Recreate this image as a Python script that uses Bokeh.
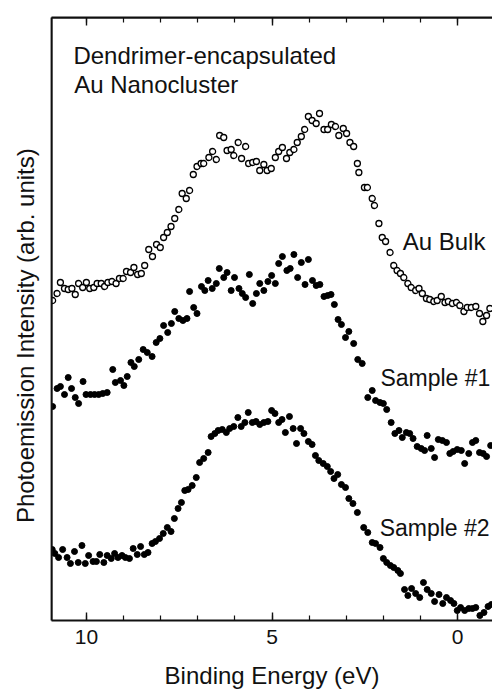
from bokeh.plotting import figure
from bokeh.models import Range1d, LinearAxis, SingleIntervalTicker, FixedTicker, Label, Span
from bokeh.embed import file_html
from bokeh.resources import INLINE

# Binding energy (eV) and photoemission intensity (arb. units)
au_e = [10.91, 10.79, 10.70, 10.59, 10.49, 10.39, 10.30, 10.21, 10.10, 10.00,
        9.91, 9.80, 9.71, 9.60, 9.51, 9.42, 9.31, 9.20, 9.11, 9.01,
        8.92, 8.81, 8.72, 8.62, 8.52, 8.43, 8.32, 8.22, 8.11, 8.01,
        7.92, 7.82, 7.72, 7.62, 7.51, 7.42, 7.31, 7.22, 7.12, 7.02,
        6.91, 6.84, 6.70, 6.60, 6.50, 6.41, 6.30, 6.21, 6.10, 6.03,
        5.91, 5.82, 5.71, 5.63, 5.52, 5.42, 5.33, 5.22, 5.13, 5.02,
        4.91, 4.82, 4.72, 4.61, 4.52, 4.41, 4.32, 4.21, 4.12, 4.02,
        3.92, 3.81, 3.72, 3.60, 3.50, 3.40, 3.29, 3.20, 3.08, 2.99,
        2.90, 2.80, 2.70, 2.66, 2.51, 2.43, 2.30, 2.24, 2.12, 2.03,
        1.94, 1.82, 1.72, 1.63, 1.54, 1.45, 1.34, 1.25, 1.13, 1.04,
        0.95, 0.84, 0.75, 0.64, 0.55, 0.44, 0.34, 0.25, 0.14, 0.03,
        -0.06, -0.17, -0.26, -0.37, -0.49, -0.59, -0.68, -0.78, -0.87]
au_i = [320, 327, 338, 332, 331, 332, 326, 337, 333, 338,
        332, 333, 337, 337, 334, 338, 339, 337, 342, 342,
        349, 348, 353, 346, 347, 355, 371, 364, 376, 373,
        383, 388, 394, 402, 411, 427, 422, 430, 446, 454,
        457, 457, 463, 469, 461, 485, 483, 470, 471, 465,
        478, 462, 474, 457, 458, 459, 450, 456, 450, 452,
        463, 469, 473, 462, 468, 471, 478, 484, 491, 504,
        500, 497, 507, 491, 491, 496, 494, 485, 492, 487,
        478, 474, 457, 448, 433, 433, 422, 415, 397, 383,
        379, 368, 355, 350, 347, 343, 337, 333, 330, 332,
        327, 322, 321, 319, 320, 324, 318, 319, 317, 318,
        315, 309, 313, 313, 314, 307, 299, 305, 312]

s1_e = [10.91, 10.79, 10.70, 10.59, 10.49, 10.40, 10.30, 10.21, 10.09, 10.01,
        9.89, 9.78, 9.67, 9.56, 9.44, 9.29, 9.22, 9.08, 8.99, 8.90,
        8.80, 8.71, 8.59, 8.47, 8.36, 8.23, 8.12, 8.02, 7.92, 7.81,
        7.71, 7.62, 7.51, 7.40, 7.29, 7.22, 7.11, 7.02, 6.90, 6.81,
        6.72, 6.61, 6.50, 6.42, 6.30, 6.21, 6.10, 6.01, 5.89, 5.80,
        5.71, 5.61, 5.52, 5.42, 5.33, 5.22, 5.11, 5.01, 4.91, 4.82,
        4.72, 4.60, 4.51, 4.41, 4.31, 4.21, 4.11, 4.02, 3.91, 3.81,
        3.71, 3.60, 3.50, 3.41, 3.32, 3.22, 3.13, 3.02, 2.93, 2.80,
        2.69, 2.57, 2.42, 2.30, 2.21, 2.09, 2.00, 1.91, 1.79, 1.69,
        1.58, 1.49, 1.38, 1.29, 1.20, 1.09, 0.98, 0.89, 0.82, 0.71,
        0.62, 0.52, 0.41, 0.30, 0.21, 0.12, 0.01, -0.10, -0.19, -0.30,
        -0.40, -0.49, -0.59, -0.69, -0.78, -0.89]
s1_i = [214, 232, 234, 226, 243, 232, 223, 217, 239, 226,
        226, 226, 226, 227, 228, 251, 238, 240, 235, 244,
        258, 254, 261, 271, 268, 264, 278, 282, 295, 288,
        297, 309, 302, 300, 302, 329, 313, 307, 334, 330,
        340, 332, 337, 352, 343, 348, 330, 343, 332, 327,
        323, 346, 317, 327, 337, 330, 339, 345, 337, 357,
        364, 350, 352, 366, 343, 358, 336, 361, 340, 335,
        336, 324, 325, 326, 316, 301, 296, 283, 289, 277,
        261, 257, 223, 230, 220, 218, 217, 211, 198, 187,
        190, 183, 188, 187, 182, 174, 172, 170, 185, 172,
        163, 181, 180, 178, 167, 169, 171, 170, 157, 167,
        178, 180, 168, 167, 164, 175]

s2_e = [10.92, 10.85, 10.75, 10.64, 10.52, 10.43, 10.32, 10.22, 10.12, 10.03,
        9.94, 9.82, 9.73, 9.64, 9.53, 9.44, 9.33, 9.24, 9.15, 9.04,
        8.95, 8.84, 8.74, 8.63, 8.54, 8.44, 8.34, 8.23, 8.14, 8.03,
        7.93, 7.82, 7.72, 7.63, 7.53, 7.44, 7.35, 7.26, 7.15, 7.04,
        6.95, 6.84, 6.72, 6.64, 6.54, 6.45, 6.34, 6.23, 6.14, 6.03,
        5.92, 5.83, 5.73, 5.64, 5.53, 5.43, 5.33, 5.22, 5.11, 5.01,
        4.92, 4.82, 4.73, 4.64, 4.53, 4.43, 4.34, 4.23, 4.14, 4.02,
        3.92, 3.83, 3.74, 3.62, 3.51, 3.42, 3.33, 3.23, 3.13, 3.02,
        2.93, 2.82, 2.70, 2.53, 2.42, 2.30, 2.21, 2.09, 2.00, 1.91,
        1.81, 1.72, 1.61, 1.54, 1.43, 1.34, 1.24, 1.13, 1.02, 0.92,
        0.82, 0.71, 0.62, 0.50, 0.40, 0.30, 0.19, 0.10, 0.01, -0.08,
        -0.19, -0.30, -0.40, -0.49, -0.60, -0.71, -0.82, -0.91]
s2_i = [71, 67, 63, 71, 63, 57, 69, 58, 75, 57,
        65, 59, 59, 66, 58, 65, 62, 67, 63, 65,
        63, 62, 72, 66, 74, 66, 68, 77, 79, 82,
        87, 93, 89, 102, 112, 118, 130, 131, 135, 143,
        158, 162, 168, 184, 187, 190, 191, 188, 192, 194,
        203, 194, 198, 208, 198, 199, 196, 198, 199, 210,
        207, 198, 201, 188, 204, 192, 177, 192, 187, 179,
        176, 165, 160, 157, 154, 149, 142, 146, 136, 133,
        122, 117, 108, 93, 88, 78, 77, 73, 62, 58,
        55, 53, 50, 47, 31, 25, 32, 27, 23, 38,
        31, 27, 19, 26, 17, 23, 20, 17, 10, 13,
        10, 12, 12, 13, 5, 8, 14, 16]

x_label = "Binding Energy (eV)"
y_label = "Photoemission Intensity (arb. units)"
x_lo, x_hi = 10.94, -0.94
y_lo, y_hi = 0, 603

FONT = "Liberation Sans"
INK = "#111111"

p = figure(width=492, height=691, output_backend="svg", toolbar_location=None,
           x_range=Range1d(x_lo, x_hi), y_range=Range1d(y_lo, y_hi),
           x_axis_location=None, y_axis_location=None,
           min_border_left=51, min_border_right=0, min_border_top=17, min_border_bottom=71)
p.outline_line_color = None
p.grid.visible = False
p.background_fill_color = "white"
p.border_fill_color = "white"

def x_axis(labels):
    ax = LinearAxis(ticker=SingleIntervalTicker(interval=5, num_minor_ticks=5),
                    major_tick_in=8, major_tick_out=0,
                    minor_tick_in=5, minor_tick_out=0,
                    axis_line_width=2, axis_line_color=INK,
                    major_tick_line_color=INK, minor_tick_line_color=INK,
                    major_tick_line_width=1.4, minor_tick_line_width=1.2,
                    major_label_text_font=FONT, major_label_text_font_size="21px",
                    major_label_text_color=INK, major_label_standoff=9)
    if labels:
        ax.axis_label = x_label
        ax.axis_label_text_font = FONT
        ax.axis_label_text_font_size = "24px"
        ax.axis_label_text_font_style = "normal"
        ax.axis_label_text_color = INK
        ax.axis_label_standoff = 15
    else:
        ax.major_label_overrides = {0: "", 5: "", 10: ""}
        ax.major_label_standoff = 0
    return ax

p.add_layout(x_axis(True), "below")
p.add_layout(x_axis(False), "above")

# trailing no-break spaces shift the centred label down, as in the reference
p.add_layout(LinearAxis(ticker=FixedTicker(ticks=[]), major_tick_in=0, major_tick_out=0,
                        minor_tick_in=0, minor_tick_out=0,
                        axis_line_width=1.8, axis_line_color=INK,
                        axis_label=y_label + "\u00a0" * 5,
                        axis_label_text_font=FONT, axis_label_text_font_size="24px",
                        axis_label_text_font_style="normal", axis_label_text_color=INK,
                        axis_label_standoff=13), "left")

# frame edges (top and left), drawn again so they stay visible
p.add_layout(Span(location=y_hi, dimension="width", line_color=INK, line_width=2))
p.add_layout(Span(location=x_lo, dimension="height", line_color=INK, line_width=2))

p.scatter(au_e, au_i, marker="circle", size=6, fill_color="white",
          line_color="black", line_width=1.3)
p.scatter(s1_e, s1_i, marker="circle", size=6, color="black")
p.scatter(s2_e, s2_i, marker="circle", size=6, color="black")

def label(x, y, text, size="24px", **kw):
    p.add_layout(Label(x=x, y=y, text=text, text_font=FONT, text_font_size=size,
                       text_color=INK, text_baseline="alphabetic", **kw))

label(10.35, 565, "Dendrimer-encapsulated")
label(10.33, 536, "Au Nanocluster")
label(1.48, 379, "Au Bulk")
label(2.08, 243, "Sample #1", size="23px")
label(2.10, 93, "Sample #2", size="23px")

open("out.html", "w").write(file_html(p, INLINE))
